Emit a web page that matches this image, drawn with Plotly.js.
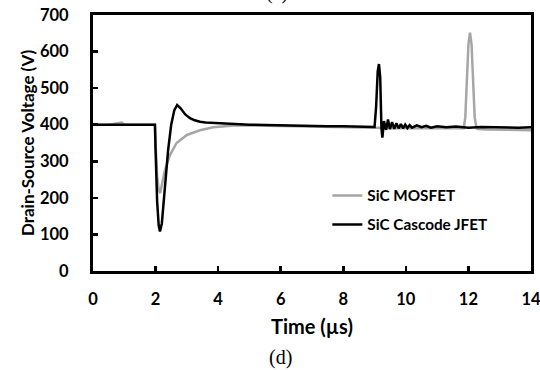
<!DOCTYPE html>
<html>
<head>
<meta charset="utf-8">
<script src="https://cdn.plot.ly/plotly-3.0.1.min.js"></script>
<style>html,body{margin:0;padding:0;background:#fff;}#chart{width:540px;height:370px;}</style>
</head>
<body>
<div id="chart"></div>
<script>
// Time axis (µs) and drain-source voltage (V)
const jfetTime = [0, 0.5, 1.0, 1.5, 1.98, 2.0, 2.05, 2.1, 2.14, 2.2, 2.3, 2.4, 2.5, 2.6, 2.69, 2.8, 2.95, 3.1, 3.25, 3.42, 3.6, 3.8, 4.06, 4.3, 4.7, 5.0, 5.5, 6, 6.5, 7, 7.5, 8, 8.5, 9.0, 9.05, 9.1, 9.14, 9.18, 9.22, 9.25, 9.3, 9.37, 9.43, 9.49, 9.56, 9.63, 9.7, 9.77, 9.84, 9.91, 9.98, 10.05, 10.12, 10.2, 10.35, 10.5, 10.65, 10.8, 11, 11.3, 11.6, 12, 12.4, 12.8, 13.2, 13.6, 14];
const jfetVds  = [400, 401, 400, 400, 400, 330, 190, 125, 108, 130, 230, 330, 400, 440, 454, 445, 428, 418, 412, 408, 406, 405, 403, 402, 401, 400, 399, 398, 397, 397, 396, 396, 395, 394, 450, 545, 566, 530, 390, 365, 410, 386, 414, 388, 407, 389, 404, 390, 402, 390, 400, 391, 399, 392, 398, 393, 397, 392, 396, 393, 395, 392, 394, 393, 394, 392, 393];

const mosTime = [0, 0.5, 0.92, 1.0, 1.5, 1.98, 2.0, 2.05, 2.1, 2.15, 2.2, 2.3, 2.46, 2.67, 3.0, 3.42, 3.84, 4.16, 4.5, 5, 6, 7, 8, 8.5, 9, 9.5, 10, 10.5, 11, 11.5, 11.85, 11.9, 11.95, 12.0, 12.05, 12.1, 12.15, 12.2, 12.26, 12.3, 12.6, 13, 13.5, 14];
const mosVds  = [400, 400, 406, 400, 400, 400, 350, 260, 222, 213, 235, 276, 317, 350, 372, 385, 393, 396, 398, 398, 397, 396, 395, 394, 392, 390, 390, 390, 390, 390, 390, 420, 530, 620, 652, 620, 520, 420, 390, 388, 387, 386, 385, 385];

const seriesNames = ["SiC MOSFET", "SiC Cascode JFET"];
const xTicks = [0, 2, 4, 6, 8, 10, 12, 14];
const yTicks = [0, 100, 200, 300, 400, 500, 600, 700];

const FONT = "Lato, 'Open Sans', sans-serif";

const traces = [
  {x: mosTime, y: mosVds, name: seriesNames[0], type: "scatter", mode: "lines",
   line: {color: "#a6a6a6", width: 2.5}, legendgroup: "a"},
  {x: jfetTime, y: jfetVds, name: seriesNames[1], type: "scatter", mode: "lines",
   line: {color: "#000000", width: 2.5}, legendgroup: "b"}
];

const axisCommon = {
  showline: true, mirror: true, linecolor: "#000", linewidth: 3,
  ticks: "inside", ticklen: 5, tickwidth: 2.5, tickcolor: "#000",
  showgrid: false, zeroline: false, ticklabeloverflow: "allow",
  tickfont: {family: FONT, size: 16.5, color: "#000", weight: "bold"}
};

const layout = {
  width: 540, height: 370,
  margin: {l: 93, r: 9, t: 15, b: 99},
  paper_bgcolor: "#fff", plot_bgcolor: "#fff",
  showlegend: true,
  legend: {x: 0.535, y: 0.238, xanchor: "left", yanchor: "middle",
           bgcolor: "rgba(0,0,0,0)", tracegroupgap: 6,
           font: {family: FONT, size: 15.3, color: "#000", weight: "bold"}},
  xaxis: Object.assign({}, axisCommon, {
    range: [0, 14], tickvals: xTicks, ticklabelstandoff: 11,
    title: {text: "Time (µs)", font: {family: FONT, size: 20, color: "#000", weight: "bold"}, standoff: 13}
  }),
  yaxis: Object.assign({}, axisCommon, {
    range: [0, 700], tickvals: yTicks, ticklabelstandoff: 18,
    title: {text: "Drain-Source Voltage (V)", font: {family: FONT, size: 17, color: "#000", weight: "bold"}, standoff: 2}
  }),
  annotations: [
    {text: "(d)", xref: "paper", yref: "paper", x: (280 - 93) / 438, y: -(357 - 271) / 256, xanchor: "center", yanchor: "middle",
     showarrow: false, font: {family: "'Liberation Serif', 'Times New Roman', serif", size: 20, color: "#000"}},
    {text: "(c)", xref: "paper", yref: "paper", x: (277 - 93) / 438, y: 1.035, xanchor: "center", yanchor: "bottom",
     showarrow: false, font: {family: "'Liberation Serif', 'Times New Roman', serif", size: 20, color: "#000"}}
  ]
};

Plotly.newPlot("chart", traces, layout, {displayModeBar: false, staticPlot: true});
</script>
</body>
</html>
